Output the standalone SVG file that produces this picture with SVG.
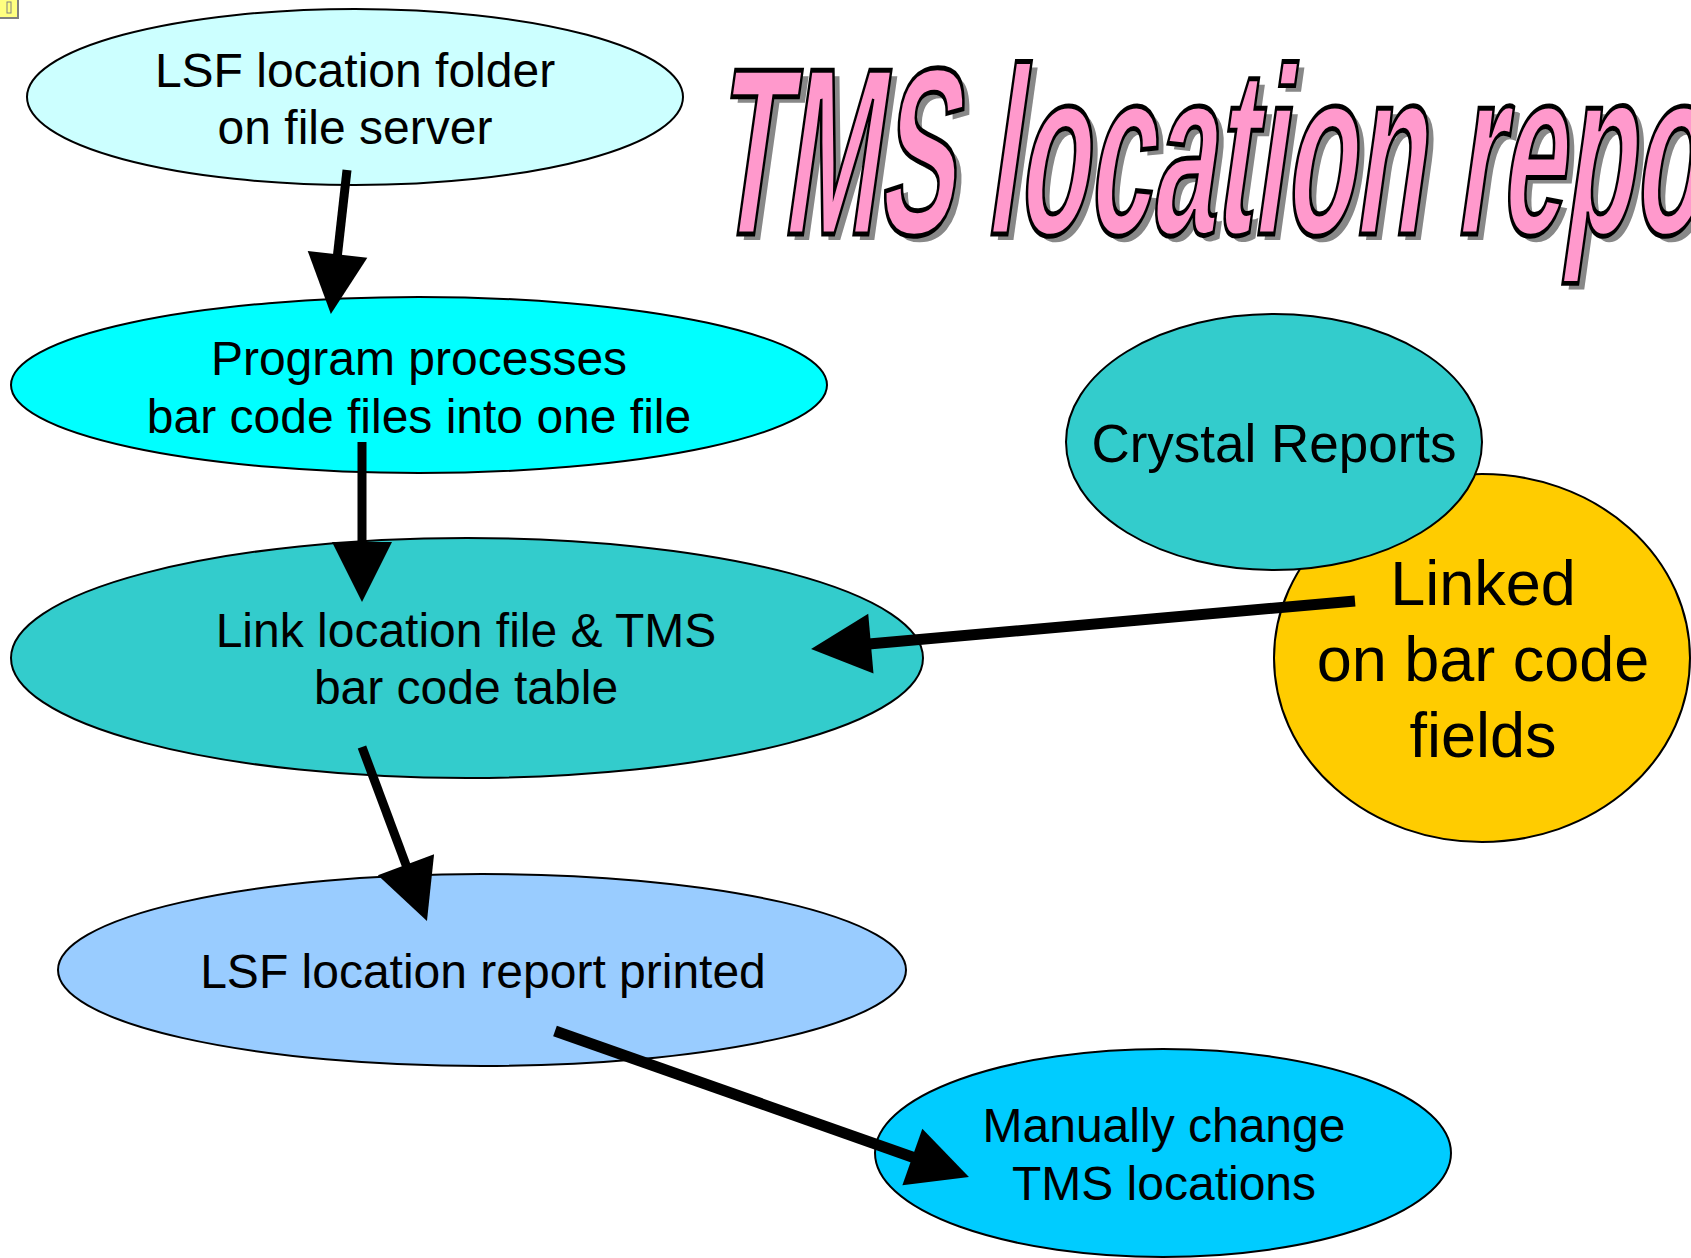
<svg xmlns="http://www.w3.org/2000/svg" width="1691" height="1258" viewBox="0 0 1691 1258">
<style>
  .node { stroke: #000; stroke-width: 2; }
  .lbl { font-family: "Liberation Sans", Arial, sans-serif; font-size: 48px; fill: #000; text-anchor: middle; }
  .conn { stroke: #000; fill: none; }
  .title { font-family: "Liberation Sans", Arial, sans-serif; font-weight: bold; font-size: 238px; }
</style>
<defs>
  <marker id="ah" markerUnits="userSpaceOnUse" markerWidth="60" markerHeight="60" viewBox="0 0 58 58" refX="2" refY="29" orient="auto" overflow="visible">
    <path d="M0,0 L58,29 L0,58 z" fill="#000"/>
  </marker>
</defs>
<rect width="1691" height="1258" fill="#fff"/>

<g id="note-icon">
  <rect x="-1" y="-1" width="19" height="19" fill="#FFFF80" stroke="#808080" stroke-width="2"/>
  <rect x="7" y="2" width="4" height="11" fill="none" stroke="#808080" stroke-width="1"/>
</g>

<g id="title">
  <text class="title" transform="translate(717,240) skewX(-8) scale(0.48,1)" fill="#888" x="0" y="0">TMS location repo</text>
  <text class="title" transform="translate(711,234) skewX(-8) scale(0.48,1)" fill="#FF99CC" stroke="#000" stroke-width="5" x="0" y="0">TMS location repo</text>
</g>

<g id="node-lsf-folder">
  <ellipse class="node" cx="355" cy="97" rx="328" ry="88" fill="#CCFFFF"/>
  <text class="lbl" x="355" y="87">LSF location folder</text>
  <text class="lbl" x="355" y="144">on file server</text>
</g>

<g id="node-program">
  <ellipse class="node" cx="419" cy="385" rx="408" ry="88" fill="#00FFFF"/>
  <text class="lbl" x="419" y="375">Program processes</text>
  <text class="lbl" x="419" y="433">bar code files into one file</text>
</g>

<g id="node-link">
  <ellipse class="node" cx="467" cy="658" rx="456" ry="120" fill="#33CCCC"/>
  <text class="lbl" x="466" y="647">Link location file &amp; TMS</text>
  <text class="lbl" x="466" y="704">bar code table</text>
</g>

<g id="node-linked">
  <ellipse class="node" cx="1482" cy="658" rx="208" ry="184" fill="#FFCC00"/>
  <text class="lbl" x="1483" y="605" style="font-size:63px">Linked</text>
  <text class="lbl" x="1483" y="681" style="font-size:63px">on bar code</text>
  <text class="lbl" x="1483" y="757" style="font-size:63px">fields</text>
</g>

<g id="node-crystal">
  <ellipse class="node" cx="1274" cy="442" rx="208" ry="128" fill="#33CCCC"/>
  <text class="lbl" x="1274" y="462" style="font-size:53px">Crystal Reports</text>
</g>

<g id="node-report">
  <ellipse class="node" cx="482" cy="970" rx="424" ry="96" fill="#99CCFF"/>
  <text class="lbl" x="483" y="988">LSF location report printed</text>
</g>

<g id="node-manual">
  <ellipse class="node" cx="1163" cy="1153" rx="288" ry="104" fill="#00CCFF"/>
  <text class="lbl" x="1164" y="1142">Manually change</text>
  <text class="lbl" x="1164" y="1200">TMS locations</text>
</g>

<g id="connectors">
  <line class="conn" x1="347" y1="170" x2="337.3" y2="256.4" stroke-width="9" marker-end="url(#ah)"/>
  <line class="conn" x1="362" y1="442" x2="362" y2="544" stroke-width="9" marker-end="url(#ah)"/>
  <line class="conn" x1="362" y1="747" x2="406.7" y2="866.7" stroke-width="9" marker-end="url(#ah)"/>
  <line class="conn" x1="1355" y1="601" x2="868.8" y2="643.9" stroke-width="11" marker-end="url(#ah)"/>
  <line class="conn" x1="555" y1="1031" x2="914.3" y2="1157.7" stroke-width="11" marker-end="url(#ah)"/>
</g>
</svg>
